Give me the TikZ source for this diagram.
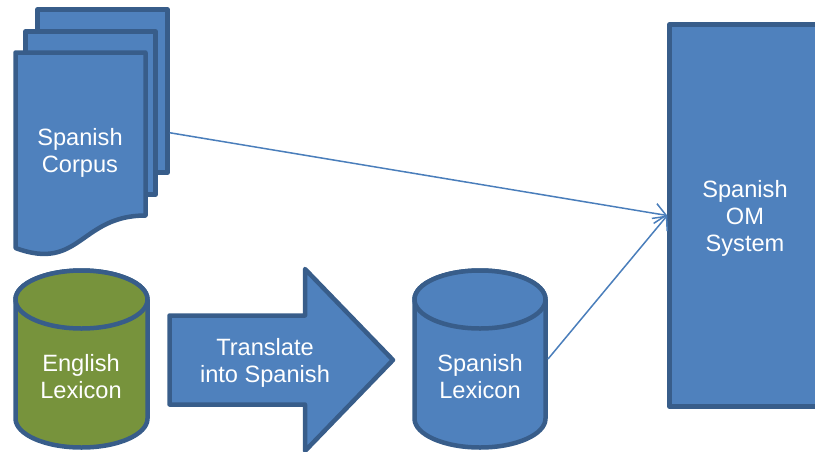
\documentclass[tikz,border=0pt]{standalone}
\usepackage{fontspec}
\setmainfont{Liberation Sans}
\usetikzlibrary{arrows.meta}
\definecolor{bfill}{HTML}{4F81BD}
\definecolor{bline}{HTML}{385D8A}
\definecolor{gfill}{HTML}{77933C}
\definecolor{conn}{HTML}{4A7EBB}
\begin{document}
\begin{tikzpicture}[x=1pt,y=1pt,
  shapestyle/.style={draw=bline, line width=4.5pt, line join=round},
  bshape/.style={shapestyle, fill=bfill},
  gshape/.style={shapestyle, fill=gfill},
  sheet/.style={bshape, inner sep=0pt, minimum width=130pt, minimum height=163pt},
  label/.style={text=white, align=center, font=\fontsize{23.6}{27}\selectfont, inner sep=0pt},
  ghost/.style={inner sep=0pt, outer sep=0pt},
  connector/.style={draw=conn, line width=1.5pt, -{Straight Barb[length=11pt,width=20pt,line width=1.5pt]}}
]
\useasboundingbox (0,0) rectangle (815,-451);

% Spanish corpus: stacked documents
\node[sheet] (back) at (102.5,-91) {};
\node[sheet] (middle) at (90.5,-113) {};
\draw[bshape] (15.5,-52.5) -- (145.5,-52.5) -- (145.5,-215.5)
  .. controls (80,-215.5) and (80,-272) .. (15.5,-248) -- cycle;
\node[label] (corpus) at (80,-153) {Spanish\\Corpus};

% English lexicon cylinder
\draw[gshape] (15.5,-299.5) -- (15.5,-418.5) arc (180:360:66pt and 29pt)
  -- (147.5,-299.5) arc (0:180:66pt and 29pt) -- cycle;
\draw[gshape] (81.5,-299.5) ellipse (66pt and 29pt);
\node[label] (elex) at (81,-376.5) {English\\Lexicon};

% Block arrow
\draw[bshape] (169.5,-315.5) -- (305,-315.5) -- (305,-269) -- (393,-360)
  -- (305,-451) -- (305,-404.5) -- (169.5,-404.5) -- cycle;
\node[label] (trans) at (265,-362.5) {Translate\\into Spanish};

% Spanish lexicon cylinder
\draw[bshape] (414.5,-299.5) -- (414.5,-418.5) arc (180:360:65.5pt and 29pt)
  -- (545.5,-299.5) arc (0:180:65.5pt and 29pt) -- cycle;
\draw[bshape] (480,-299.5) ellipse (65.5pt and 29pt);
\node[ghost, minimum width=136pt, minimum height=182pt] (slexbox) at (480,-359) {};
\node[label] (slex) at (480,-377) {Spanish\\Lexicon};

% Spanish OM system
\node[bshape, inner sep=0pt, minimum width=151pt, minimum height=382pt] (om) at (745,-215.5) {};
\node[label] (omtext) at (745,-218) {Spanish\\OM\\System};

% Connectors
\draw[connector] ([yshift=42pt]back.south east) -- (om.west);
\draw[connector] (slexbox.east) -- (om.west);
\end{tikzpicture}
\end{document}
